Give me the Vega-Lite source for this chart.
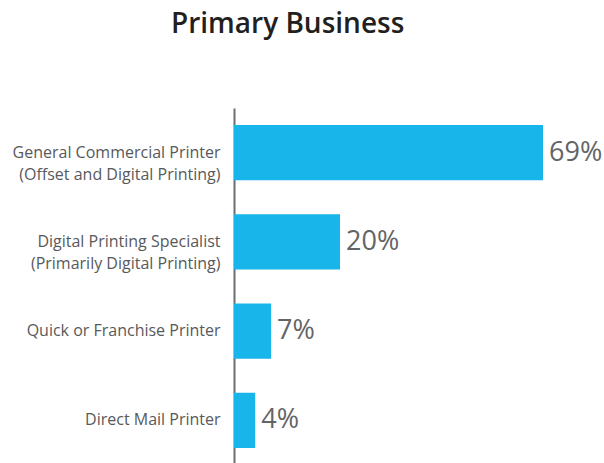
{
  "$schema": "https://vega.github.io/schema/vega-lite/v6.json",
  "autosize": "none",
  "width": 309,
  "height": 357,
  "padding": {"left": 234, "top": 108, "right": 61, "bottom": 0},
  "background": "white",
  "title": {
    "text": "Primary Business",
    "anchor": "start",
    "frame": "group",
    "dx": -63,
    "offset": 69,
    "fontSize": 28,
    "font": "Open Sans",
    "fontWeight": 600,
    "color": "#231f20"
  },
  "data": {
    "values": [
      {"business": "General Commercial Printer|(Offset and Digital Printing)", "pct": 0.69},
      {"business": "Digital Printing Specialist|(Primarily Digital Printing)", "pct": 0.2},
      {"business": "Quick or Franchise Printer", "pct": 0.07},
      {"business": "Direct Mail Printer", "pct": 0.04}
    ]
  },
  "encoding": {
    "y": {
      "field": "business",
      "type": "nominal",
      "sort": null,
      "scale": {"paddingInner": 0.38, "paddingOuter": 0.19},
      "axis": {
        "title": null,
        "ticks": false,
        "domain": true,
        "domainColor": "#6d6e71",
        "domainWidth": 2,
        "labelExpr": "split(datum.value, '|')",
        "labelFont": "Open Sans",
        "labelFontSize": 16,
        "labelColor": "#58595b",
        "labelPadding": 14,
        "labelLineHeight": 22,
        "labelLimit": 300
      }
    },
    "x": {
      "field": "pct",
      "type": "quantitative",
      "scale": {"domain": [0, 0.583], "clamp": true, "nice": false},
      "axis": null
    }
  },
  "layer": [
    {"mark": {"type": "bar", "color": "#17b5ea"}},
    {
      "mark": {"type": "text", "align": "left", "dx": 6, "fontSize": 27, "font": "Open Sans", "color": "#636466"},
      "encoding": {"text": {"field": "pct", "type": "quantitative", "format": ".0%"}}
    }
  ],
  "config": {"view": {"stroke": null}}
}
